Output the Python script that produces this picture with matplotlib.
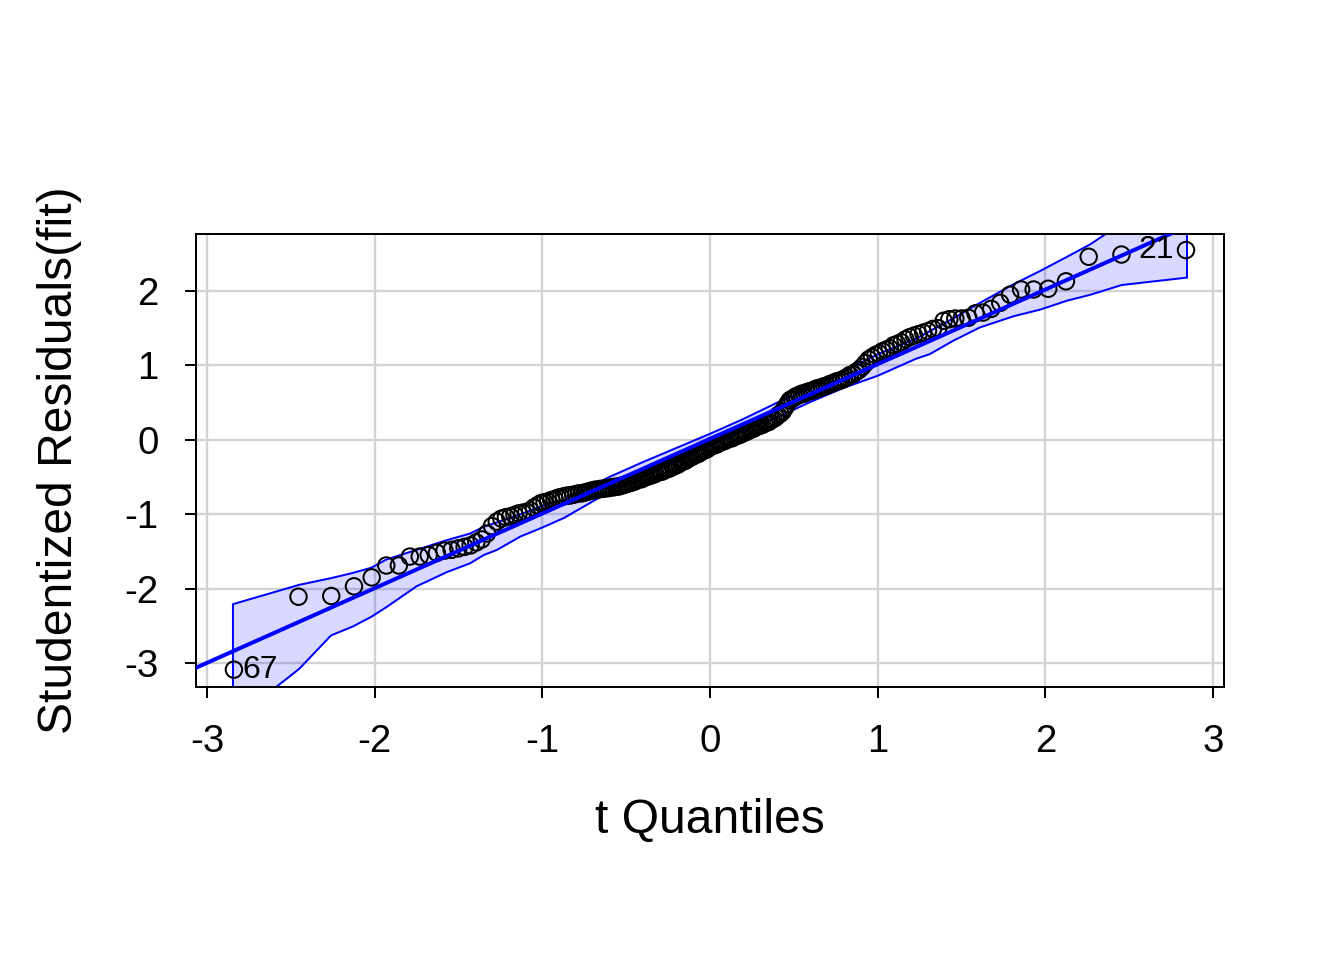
import numpy as np
import matplotlib
matplotlib.use("Agg")
import matplotlib.pyplot as plt
from statistics import NormalDist

# ---------------- data ----------------
n_obs = 200
df_resid = 196
# sorted studentized residuals
residuals = [
    -3.09, -2.11, -2.10, -1.97, -1.85, -1.69, -1.69, -1.57, -1.57, -1.55,
    -1.52, -1.49, -1.48, -1.46, -1.44, -1.42, -1.38, -1.34, -1.26, -1.16,
    -1.10, -1.06, -1.04, -1.03, -1.01, -0.99, -0.98, -0.97, -0.95, -0.91,
    -0.88, -0.85, -0.84, -0.83, -0.81, -0.80, -0.78, -0.77, -0.76, -0.75,
    -0.75, -0.74, -0.73, -0.72, -0.72, -0.71, -0.70, -0.69, -0.68, -0.67,
    -0.67, -0.66, -0.66, -0.65, -0.65, -0.64, -0.64, -0.63, -0.63, -0.62,
    -0.61, -0.60, -0.59, -0.58, -0.57, -0.56, -0.54, -0.53, -0.53, -0.51,
    -0.50, -0.49, -0.48, -0.47, -0.46, -0.44, -0.43, -0.43, -0.41, -0.40,
    -0.39, -0.38, -0.36, -0.35, -0.34, -0.32, -0.30, -0.29, -0.28, -0.26,
    -0.24, -0.23, -0.21, -0.20, -0.19, -0.17, -0.15, -0.14, -0.13, -0.11,
    -0.09, -0.08, -0.07, -0.06, -0.04, -0.03, -0.02, -0.01, 0.01, 0.02,
    0.02, 0.04, 0.05, 0.06, 0.07, 0.09, 0.10, 0.11, 0.13, 0.14,
    0.15, 0.17, 0.18, 0.19, 0.20, 0.22, 0.23, 0.24, 0.27, 0.28,
    0.30, 0.33, 0.35, 0.38, 0.43, 0.48, 0.53, 0.55, 0.57, 0.59,
    0.60, 0.62, 0.62, 0.64, 0.65, 0.66, 0.67, 0.69, 0.69, 0.71,
    0.72, 0.73, 0.75, 0.76, 0.78, 0.79, 0.80, 0.82, 0.84, 0.87,
    0.88, 0.91, 0.94, 0.98, 1.03, 1.08, 1.11, 1.14, 1.16, 1.19,
    1.21, 1.23, 1.27, 1.29, 1.31, 1.35, 1.38, 1.40, 1.42, 1.44,
    1.46, 1.49, 1.50, 1.60, 1.62, 1.63, 1.63, 1.64, 1.70, 1.71,
    1.76, 1.84, 1.95, 2.02, 2.02, 2.03, 2.13, 2.46, 2.49, 2.55,
]
# labelled observations: (rank in sorted order, label)
id_ranks = [0, 199]
id_labels = ["67", "21"]

# simulated confidence envelope
env_x = [-2.845, -2.45, -2.26, -2.13, -2.02, -1.93, -1.75, -1.57, -1.43, -1.35,
         -1.27, -1.13, -1.0, -0.87, -0.6, -0.4, -0.2, 0.0, 0.2, 0.42,
         0.6, 0.8, 1.0, 1.23, 1.31, 1.45, 1.61, 1.81, 1.97, 2.13,
         2.27, 2.455, 2.845]
env_hi = [-2.21, -1.95, -1.86, -1.79, -1.72, -1.61, -1.48, -1.35, -1.26, -1.17,
          -1.11, -1.00, -0.89, -0.81, -0.50, -0.30, -0.11, 0.08, 0.28, 0.52,
          0.69, 0.92, 1.15, 1.36, 1.46, 1.63, 1.84, 2.09, 2.27, 2.46,
          2.63, 2.91, 3.45]
env_lo = [-3.78, -3.08, -2.63, -2.51, -2.38, -2.25, -1.97, -1.78, -1.66, -1.55,
          -1.48, -1.30, -1.18, -1.05, -0.70, -0.48, -0.28, -0.08, 0.12, 0.32,
          0.51, 0.70, 0.86, 1.09, 1.15, 1.33, 1.51, 1.66, 1.75, 1.87,
          1.95, 2.08, 2.18]

x_ticks = [-3, -2, -1, 0, 1, 2, 3]
y_ticks = [-3, -2, -1, 0, 1, 2]
x_label = "t Quantiles"
y_label = "Studentized Residuals(fit)"


# ---------------- theoretical t quantiles ----------------
def qt(p, nu):
    z = NormalDist().inv_cdf(p)
    g1 = (z**3 + z) / 4.0
    g2 = (5 * z**5 + 16 * z**3 + 3 * z) / 96.0
    g3 = (3 * z**7 + 19 * z**5 + 17 * z**3 - 15 * z) / 384.0
    return z + g1 / nu + g2 / nu**2 + g3 / nu**3


def huber_fit(x, yv, k=1.345, iters=50):
    X = np.column_stack([np.ones_like(x), x])
    beta = np.linalg.lstsq(X, yv, rcond=None)[0]
    for _ in range(iters):
        r = yv - X @ beta
        s = np.median(np.abs(r - np.median(r))) / 0.6745
        u = np.abs(r) / (k * s)
        w = np.where(u <= 1, 1.0, 1.0 / u)
        W = np.sqrt(w)
        beta = np.linalg.lstsq(X * W[:, None], yv * W, rcond=None)[0]
    return beta


y = np.array(residuals)
pp = (np.arange(1, n_obs + 1) - 0.5) / n_obs
xq = np.array([qt(p, df_resid) for p in pp])

intercept, slope = huber_fit(xq, y)

# ---------------- plotting ----------------
plt.rcParams["font.family"] = ["Liberation Sans", "DejaVu Sans"]
plt.rcParams["axes.unicode_minus"] = False

fig = plt.figure(figsize=(7, 5), dpi=192)
ax = fig.add_axes([0.1458, 0.2844, 0.9107 - 0.1458, 0.75625 - 0.2844])

blue = "#0000ff"
ex = np.array(env_x)
poly_x = np.concatenate([ex, ex[::-1]])
poly_y = np.concatenate([np.array(env_hi), np.array(env_lo)[::-1]])
ax.fill(poly_x, poly_y, facecolor=(0, 0, 1, 0.15), edgecolor=blue,
        linewidth=0.75, zorder=2)

ax.scatter(xq, y, s=38, facecolors="none", edgecolors="black",
           linewidths=0.75, zorder=3)

xl = np.array([-3.2, 3.2])
ax.plot(xl, intercept + slope * xl, color=blue, linewidth=1.5, zorder=4)

for r, lab in zip(id_ranks, id_labels):
    if xq[r] < 0:
        ax.text(xq[r] + 0.05, y[r], lab, ha="left", va="center", fontsize=12,
                zorder=5)
    else:
        ax.text(xq[r] - 0.07, y[r], lab, ha="right", va="center", fontsize=12,
                zorder=5)

ax.set_xlim(-3.0656, 3.0656)
ax.set_ylim(-3.323, 2.766)
ax.set_xticks(x_ticks)
ax.set_yticks(y_ticks)
ax.set_xticklabels([str(t) for t in x_ticks])
ax.set_yticklabels([str(t) for t in y_ticks])
ax.grid(True, color="#d3d3d3", linewidth=0.9, zorder=0)
ax.set_axisbelow(True)
for s in ax.spines.values():
    s.set_linewidth(0.75)
    s.set_color("black")
ax.tick_params(axis="both", which="major", length=4, width=0.75,
               labelsize=14.4, pad=10)
ax.set_xlabel(x_label, fontsize=18, labelpad=14)
ax.set_ylabel(y_label, fontsize=18, labelpad=16)

fig.savefig("out.png", dpi=192)
